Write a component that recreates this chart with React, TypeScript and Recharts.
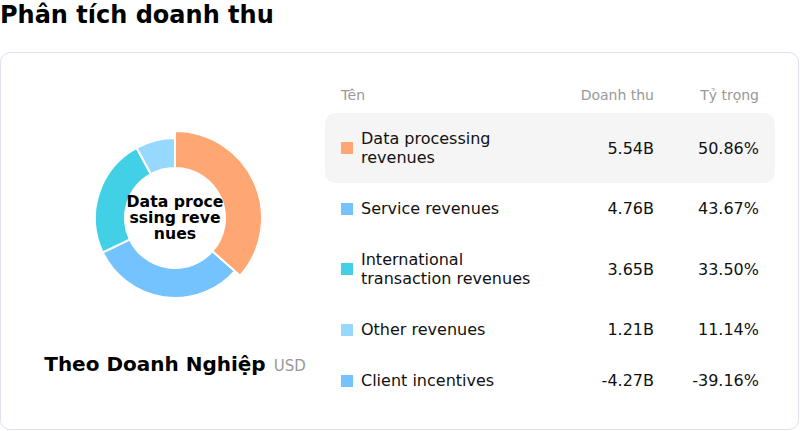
import React from "react";
import { PieChart, Pie, Cell, Label } from "recharts";

const FONT = "'DejaVu Sans', sans-serif";

const title = "Phân tích doanh thu";
const subtitle = "Theo Doanh Nghiệp";
const unit = "USD";
const headers = ["Tên", "Doanh thu", "Tỷ trọng"];

const categories = [
  "Data processing revenues",
  "Service revenues",
  "International transaction revenues",
  "Other revenues",
  "Client incentives",
];
const revenues = [5.54, 4.76, 3.65, 1.21, -4.27];
const shares = [50.86, 43.67, 33.5, 11.14, -39.16];
const colors = ["#FFA772", "#74C3FF", "#41D0E6", "#97D8FF", "#74C3FF"];

const pieData = categories
  .map((name, i) => ({ name, value: revenues[i], color: colors[i] }))
  .filter((d) => d.value > 0);

const activeIndex = 0;
const CX = 175;
const CY = 150;

function chunk(s: string, n: number): string[] {
  const out: string[] = [];
  for (let i = 0; i < s.length; i += n) out.push(s.slice(i, i + n));
  return out;
}

const CenterLabel = () => {
  const lines = chunk(categories[activeIndex], 10);
  const lh = 16;
  const start = CY - 1 - ((lines.length - 1) * lh) / 2;
  return (
    <text
      x={CX}
      y={start}
      textAnchor="middle"
      dominantBaseline="central"
      fontSize={15.7}
      fontWeight={700}
      fontFamily={FONT}
      fill="#000"
    >
      {lines.map((l, i) => (
        <tspan key={i} x={CX} y={start + i * lh} dominantBaseline="central">
          {l}
        </tspan>
      ))}
    </text>
  );
};

export default function App() {
  return (
    <div
      style={{
        position: "absolute",
        left: 0,
        top: 0,
        width: 800,
        height: 431,
        background: "#fff",
        fontFamily: FONT,
        overflow: "hidden",
      }}
    >
      <div
        style={{
          position: "absolute",
          left: 0,
          top: 0,
          fontSize: 24,
          fontWeight: 700,
          lineHeight: "30px",
          color: "#000",
        }}
      >
        {title}
      </div>
      <div
        style={{
          position: "absolute",
          left: 0,
          top: 52,
          width: 797,
          height: 376,
          border: "1px solid #e2e0ee",
          borderRadius: 10,
        }}
      />
      <div style={{ position: "absolute", left: 0, top: 68 }}>
        <PieChart width={350} height={300} margin={{ top: 0, right: 0, bottom: 0, left: 0 }}>
          <Pie
            data={pieData}
            dataKey="value"
            nameKey="name"
            cx={CX}
            cy={CY}
            innerRadius={50}
            outerRadius={80}
            startAngle={90}
            endAngle={-270}
            stroke="#fff"
            strokeWidth={2}
            isAnimationActive={false}
          >
            {pieData.map((d, i) => (
              <Cell key={i} fill={d.color} />
            ))}
          </Pie>
          <Pie
            data={pieData}
            dataKey="value"
            nameKey="name"
            cx={CX}
            cy={CY}
            innerRadius={50}
            outerRadius={87}
            startAngle={90}
            endAngle={-270}
            isAnimationActive={false}
          >
            {pieData.map((d, i) => (
              <Cell
                key={i}
                fill={i === activeIndex ? d.color : "none"}
                stroke={i === activeIndex ? "#fff" : "none"}
                strokeWidth={2}
              />
            ))}
            <Label position="center" content={<CenterLabel />} />
          </Pie>
        </PieChart>
      </div>
      <div
        style={{
          position: "absolute",
          left: 0,
          width: 350,
          top: 352,
          textAlign: "center",
          whiteSpace: "nowrap",
        }}
      >
        <span style={{ fontSize: 20, fontWeight: 700, color: "#000" }}>{subtitle}</span>
        <span style={{ fontSize: 15, color: "#999", marginLeft: 8 }}>{unit}</span>
      </div>
      <div style={{ position: "absolute", left: 325, top: 83, width: 450 }}>
        <div
          style={{
            display: "flex",
            padding: "0 16px",
            height: 24,
            alignItems: "center",
            fontSize: 14,
            color: "#999",
            marginBottom: 6,
          }}
        >
          <div style={{ width: 200 }}>{headers[0]}</div>
          <div style={{ flex: 1, textAlign: "right" }}>{headers[1]}</div>
          <div style={{ width: 105, textAlign: "right" }}>{headers[2]}</div>
        </div>
        {categories.map((c, i) => (
          <div
            key={c}
            style={{
              display: "flex",
              alignItems: "center",
              padding: "16px 16px",
              fontSize: 16,
              lineHeight: "19px",
              color: "#111",
              background: i === activeIndex ? "#f5f5f5" : "transparent",
              borderRadius: 10,
            }}
          >
            <div style={{ width: 200, display: "flex", alignItems: "center" }}>
              <div
                style={{
                  width: 12,
                  height: 12,
                  background: colors[i],
                  flex: "0 0 12px",
                  marginRight: 8,
                }}
              />
              <div style={{ width: 178 }}>{c}</div>
            </div>
            <div style={{ flex: 1, textAlign: "right" }}>{revenues[i].toFixed(2)}B</div>
            <div style={{ width: 105, textAlign: "right" }}>{shares[i].toFixed(2)}%</div>
          </div>
        ))}
      </div>
    </div>
  );
}
